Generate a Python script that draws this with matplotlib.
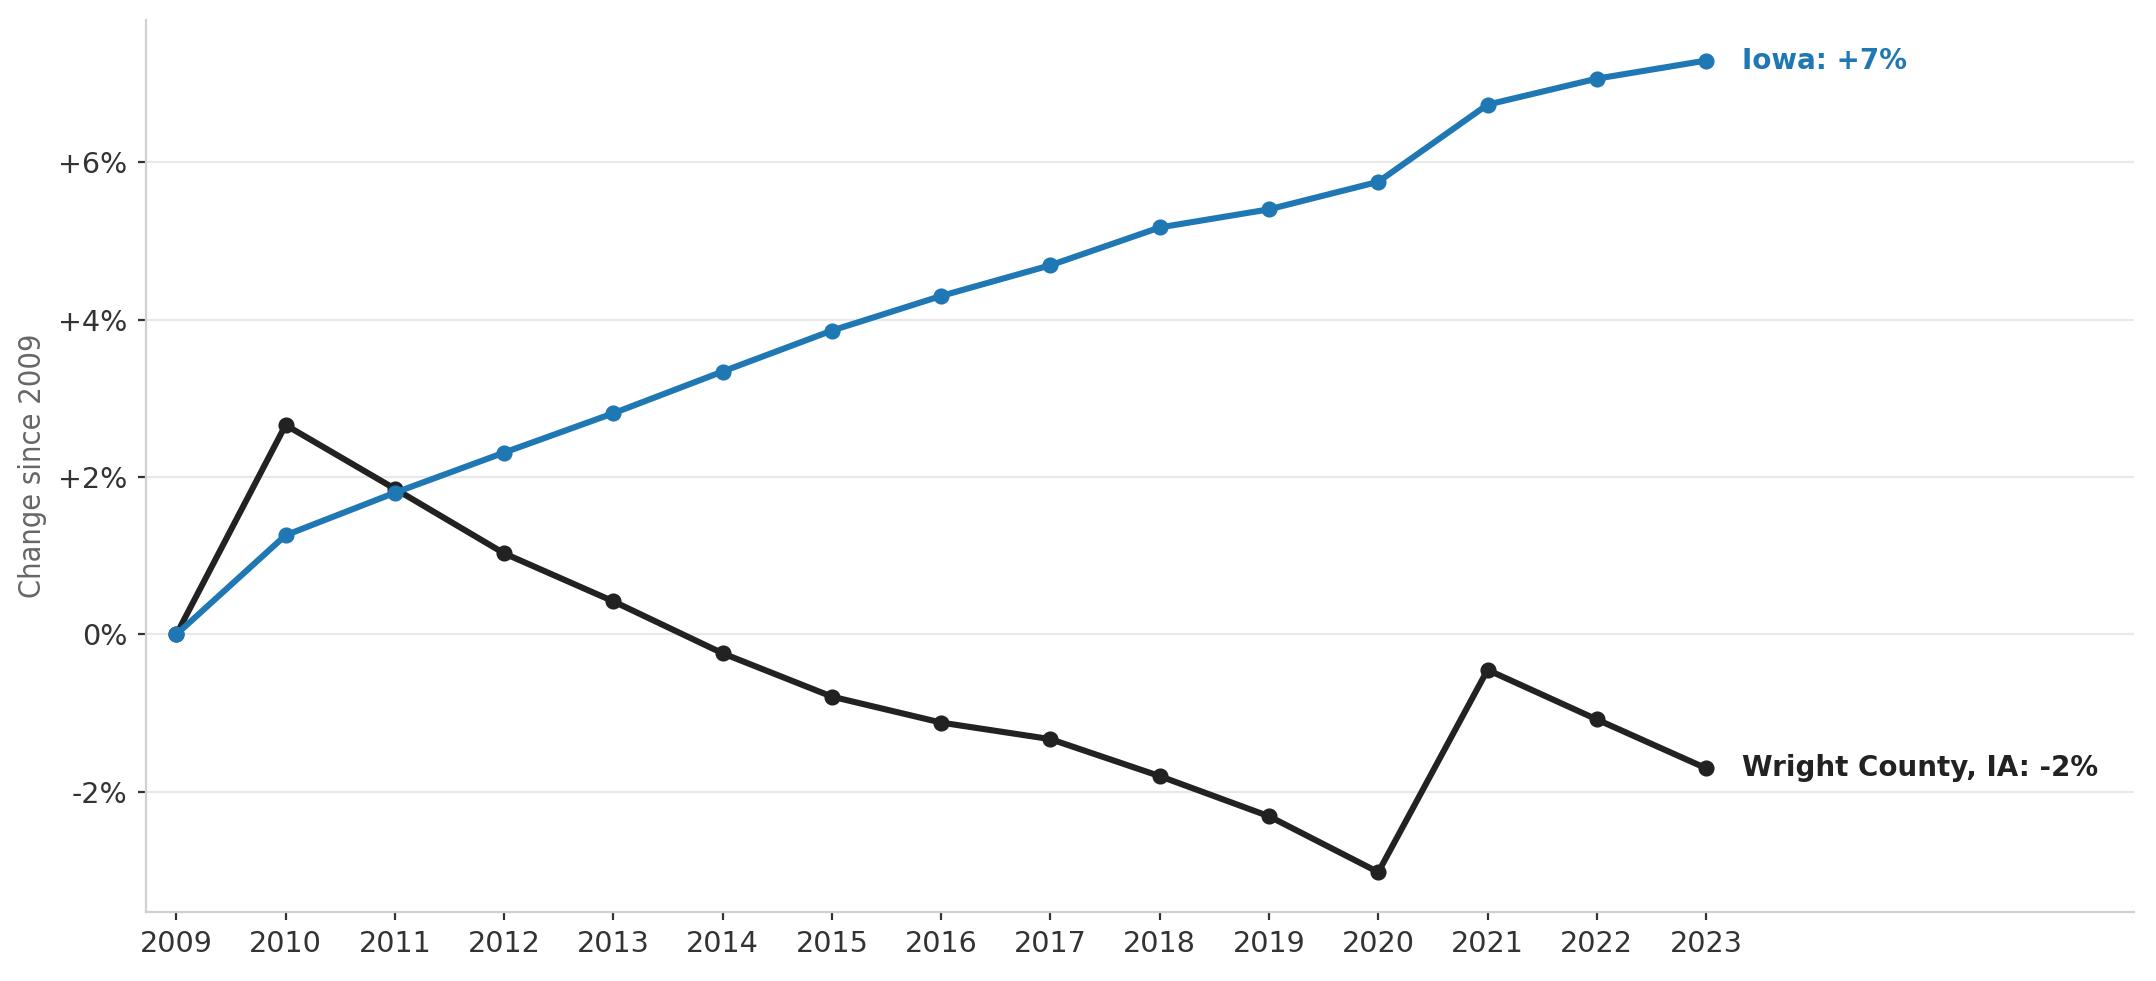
import matplotlib
matplotlib.use("Agg")
import matplotlib.pyplot as plt
from matplotlib.ticker import FuncFormatter

# data (percent change since 2009)
years = list(range(2009, 2024))
iowa = [0.0, 1.26, 1.80, 2.31, 2.81, 3.34, 3.86, 4.30, 4.69, 5.17, 5.40, 5.75, 6.73, 7.06, 7.29]
wright = [0.0, 2.66, 1.85, 1.03, 0.42, -0.24, -0.79, -1.12, -1.33, -1.80, -2.31, -3.02, -0.45, -1.08, -1.70]
yticks = [-2, 0, 2, 4, 6]

blue = "#1f77b4"
dark = "#222222"

fig = plt.figure(figsize=(10.78, 4.905), dpi=200)
ax = fig.add_axes([0.0676, 0.070, 0.9224, 0.910])

ax.plot(years, wright, color=dark, lw=2.2, marker="o", ms=4.8, zorder=3)
ax.plot(years, iowa, color=blue, lw=2.2, marker="o", ms=4.8, zorder=4)

# end labels
ax.annotate("Iowa: +7%", (years[-1], iowa[-1]), xytext=(13, 0), textcoords="offset points",
            va="center", ha="left", fontsize=10, fontweight="bold", color=blue)
ax.annotate("Wright County, IA: -2%", (years[-1], wright[-1]), xytext=(13, 0), textcoords="offset points",
            va="center", ha="left", fontsize=10, fontweight="bold", color=dark)

ax.set_xlim(2008.72, 2026.92)
ax.set_ylim(-3.53, 7.81)
ax.set_xticks(years)
ax.set_yticks(yticks)
ax.yaxis.set_major_formatter(FuncFormatter(lambda v, p: "0%" if v == 0 else f"{v:+.0f}%"))

ax.grid(axis="y", color="#e8e8e8", lw=0.8)
ax.set_axisbelow(True)
for s in ["top", "right"]:
    ax.spines[s].set_visible(False)
for s in ["left", "bottom"]:
    ax.spines[s].set_color("#d0d0d0")
    ax.spines[s].set_linewidth(0.8)
ax.tick_params(axis="both", labelsize=10.3, colors="#333333", length=3, width=0.8)

ax.set_ylabel("Change since 2009", fontsize=11, color="#666666",
              family="DejaVu Sans", fontstretch="condensed", labelpad=4)

fig.savefig("out.png", dpi=200)
